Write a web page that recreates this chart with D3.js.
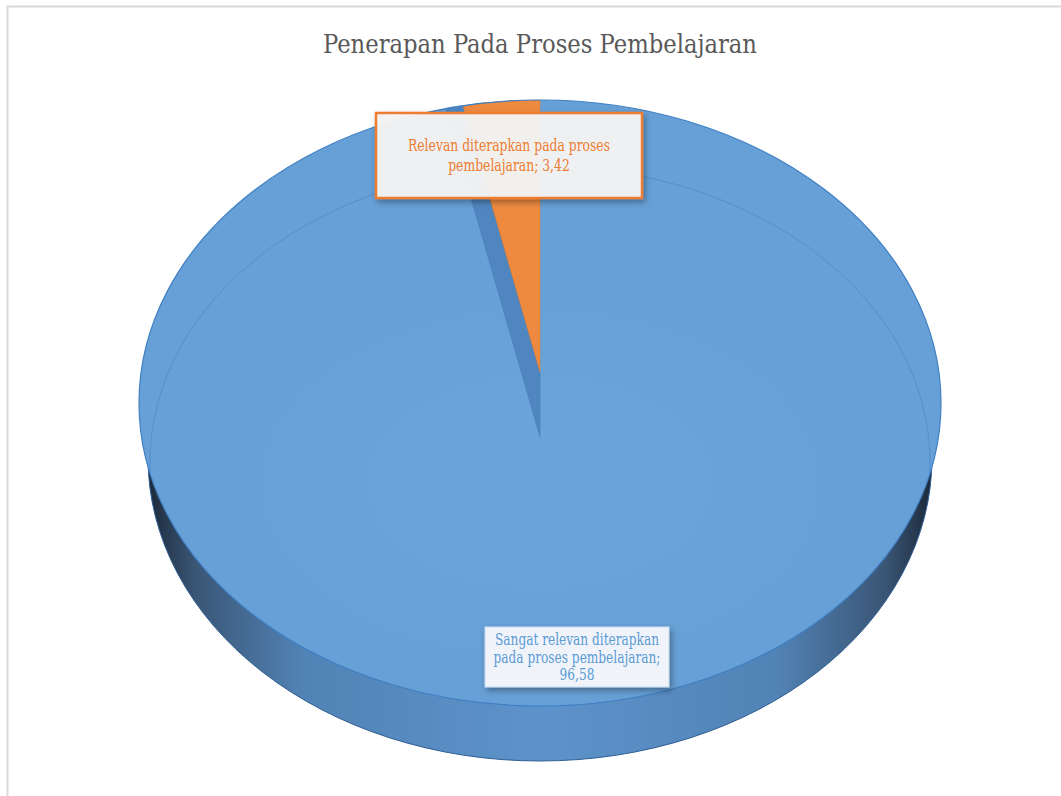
<!DOCTYPE html>
<html>
<head>
<meta charset="utf-8">
<script src="https://cdn.jsdelivr.net/npm/d3@7"></script>
<style>
  html, body { margin: 0; padding: 0; background: #fff; }
  svg { display: block; }
  .serif { font-family: "DejaVu Serif", "Liberation Serif", "Times New Roman", serif; font-stretch: condensed; }
</style>
</head>
<body>
<svg id="chart" width="1061" height="796"></svg>
<script>
// Chart data
const title = "Penerapan Pada Proses Pembelajaran";
const categories = [
  "Sangat relevan diterapkan pada proses pembelajaran",
  "Relevan diterapkan pada proses pembelajaran"
];
const values = [96.58, 3.42];
const faceColors = ["#67a0d6", "#ee8a3f"];
const labelTextColors = ["#5b9bd5", "#ed7d31"];

// Layout
const W = 1061, H = 796;
const cx = 540, cy = 403, rx = 401, ry = 303;     // top face ellipse
const depth = 55, baseRx = 392;                    // side wall
const apexShift = [34, -31];                       // per-slice apex offset

const svg = d3.select("#chart");
const defs = svg.append("defs");

const num = d3.formatLocale({ decimal: ",", thousands: ".", grouping: [3], currency: ["", ""] }).format(".2f");

// side wall gradient
const sideGrad = defs.append("linearGradient").attr("id", "sideGrad")
  .attr("gradientUnits", "userSpaceOnUse")
  .attr("x1", cx - baseRx).attr("x2", cx + baseRx).attr("y1", 0).attr("y2", 0);
[[0, "#1c2a3a"], [0.06, "#3a5676"], [0.2, "#5283b6"], [0.5, "#5d93cb"], [0.8, "#5283b6"], [0.94, "#3a5676"], [1, "#1c2a3a"]]
  .forEach(([o, c]) => sideGrad.append("stop").attr("offset", o).attr("stop-color", c));

// soft light on the top face
const glow = defs.append("radialGradient").attr("id", "glow")
  .attr("gradientUnits", "userSpaceOnUse")
  .attr("cx", cx).attr("cy", cy + 80).attr("r", 330)
  .attr("gradientTransform", `translate(${cx},${cy + 80}) scale(1,0.62) translate(${-cx},${-(cy + 80)})`);
glow.append("stop").attr("offset", 0).attr("stop-color", "#6ba6da").attr("stop-opacity", 0.8);
glow.append("stop").attr("offset", 0.7).attr("stop-color", "#6ba6da").attr("stop-opacity", 0.3);
glow.append("stop").attr("offset", 1).attr("stop-color", "#6ba6da").attr("stop-opacity", 0);

const shadow = defs.append("filter").attr("id", "shadow")
  .attr("x", "-20%").attr("y", "-30%").attr("width", "140%").attr("height", "160%");
shadow.append("feDropShadow").attr("dx", 2).attr("dy", 3).attr("stdDeviation", 3)
  .attr("flood-color", "#000").attr("flood-opacity", 0.35);

defs.append("clipPath").attr("id", "topClip")
  .append("ellipse").attr("cx", cx).attr("cy", cy).attr("rx", rx).attr("ry", ry);

// frame
svg.append("rect").attr("x", 7.5).attr("y", 6.5).attr("width", W + 20).attr("height", H + 20)
  .attr("fill", "none").attr("stroke", "#d9d9d9").attr("stroke-width", 2);

// natural width of a string at a font size
const probe = svg.append("text").attr("class", "serif").attr("visibility", "hidden");
function measure(str, size) {
  probe.attr("font-size", size).text(str);
  return probe.node().getComputedTextLength();
}
// one centred line, narrowed horizontally by `ratio`
function drawLine(parent, str, x, y, size, ratio, color) {
  const w = measure(str, size);
  return parent.append("text").attr("class", "serif")
    .attr("x", x).attr("y", y).attr("font-size", size)
    .attr("text-anchor", "middle").attr("fill", color)
    .attr("textLength", w * ratio).attr("lengthAdjust", "spacingAndGlyphs")
    .text(str);
}

// title
drawLine(svg, title, cx, 53, 26, 434 / measure(title, 26), "#595959");

const pie = d3.pie().sort(null).startAngle(0).endAngle(2 * Math.PI);
const arcs = pie(values);

// where a slice edge leaving apex (ax, ay) at pie angle a meets the rim
function rim(ax, ay, a) {
  const px = (ax - cx) / rx, py = (ay - cy) / ry;
  const qx = Math.sin(a), qy = -Math.cos(a);
  const pq = px * qx + py * qy;
  const t = -pq + Math.sqrt(pq * pq - (px * px + py * py) + 1);
  return [ax + t * rx * qx, ay + t * ry * qy];
}
const apex = i => [cx, cy + apexShift[i]];

function facePath(d, i) {
  const [ax, ay] = apex(i);
  const p0 = rim(ax, ay, d.startAngle), p1 = rim(ax, ay, d.endAngle);
  const large = d.endAngle - d.startAngle > Math.PI ? 1 : 0;
  return `M${ax},${ay}L${p0[0]},${p0[1]}A${rx},${ry} 0 ${large} 1 ${p1[0]},${p1[1]}Z`;
}

// side wall
svg.append("ellipse").attr("cx", cx).attr("cy", cy + depth).attr("rx", baseRx).attr("ry", ry)
  .attr("fill", "url(#sideGrad)").attr("stroke", "#2e5f94").attr("stroke-width", 1);

// cut face of the large slice, seen beside the small one
function cutPath() {
  const big = arcs[0], small = arcs[1];
  const [bx, by] = apex(0), [sx, sy] = apex(1);
  const pb = rim(bx, by, big.endAngle), ps = rim(sx, sy, small.startAngle);
  return `M${pb[0]},${pb[1]}A${rx},${ry} 0 0 1 ${ps[0]},${ps[1]}L${sx},${sy}L${bx},${by}Z`;
}

const g = svg.append("g");
g.selectAll("path.face").data(arcs).join("path").attr("class", "face")
  .attr("d", facePath)
  .attr("fill", (d, i) => faceColors[i]);

// light and bevel line on the large face
const topG = svg.append("g").attr("clip-path", "url(#topClip)");
topG.append("path").attr("d", facePath(arcs[0], 0)).attr("fill", "url(#glow)");
topG.append("ellipse").attr("cx", cx).attr("cy", cy + 59).attr("rx", 390).attr("ry", 296)
  .attr("fill", "none").attr("stroke", "#5189c4").attr("stroke-width", 1).attr("opacity", 0.8);

svg.append("path").attr("d", cutPath()).attr("fill", "#4f86c0")
  .attr("stroke", "#4a80bb").attr("stroke-width", 0.6).attr("stroke-linejoin", "round");
svg.append("path").attr("d", facePath(arcs[1], 1)).attr("fill", faceColors[1])
  .attr("stroke", "#e47a30").attr("stroke-width", 0.5);

// outer rim
svg.append("ellipse").attr("cx", cx).attr("cy", cy).attr("rx", rx).attr("ry", ry)
  .attr("fill", "none").attr("stroke", "#3f7fc2").attr("stroke-width", 1.2);

// data labels: box, first-line word count and its width
const labels = [
  { box: [485, 627, 184, 60], words: 3, lineW: 164, fill: "#f0f4fa", stroke: "#c9dbef", sw: 1, opacity: 1, lh: 17.5 },
  { box: [376, 113, 266, 85], words: 4, lineW: 202, fill: "#f4f4f4", stroke: "#ed7d31", sw: 2.5, opacity: 0.96, lh: 20 }
];
const labelSize = 16;

arcs.forEach((d, i) => {
  const L = labels[i];
  const [bx, by, bw, bh] = L.box;
  const lg = svg.append("g");
  lg.append("rect").attr("x", bx).attr("y", by).attr("width", bw).attr("height", bh)
    .attr("fill", L.fill).attr("fill-opacity", L.opacity)
    .attr("stroke", L.stroke).attr("stroke-width", L.sw)
    .attr("filter", "url(#shadow)");
  const words = `${categories[i]}; ${num(values[i])}`.split(" ");
  const ratio = L.lineW / measure(words.slice(0, L.words).join(" "), labelSize);
  const maxW = L.lineW + 8;
  const lines = [];
  let cur = [];
  words.forEach(w => {
    if (measure(cur.concat(w).join(" "), labelSize) * ratio > maxW && cur.length) {
      lines.push(cur.join(" "));
      cur = [w];
    } else cur.push(w);
  });
  lines.push(cur.join(" "));
  const firstBase = by + bh / 2 - (lines.length - 1) * L.lh / 2 + 5.5;
  lines.forEach((ln, k) => drawLine(lg, ln, bx + bw / 2, firstBase + k * L.lh, labelSize, ratio, labelTextColors[i]));
});
</script>
</body>
</html>
